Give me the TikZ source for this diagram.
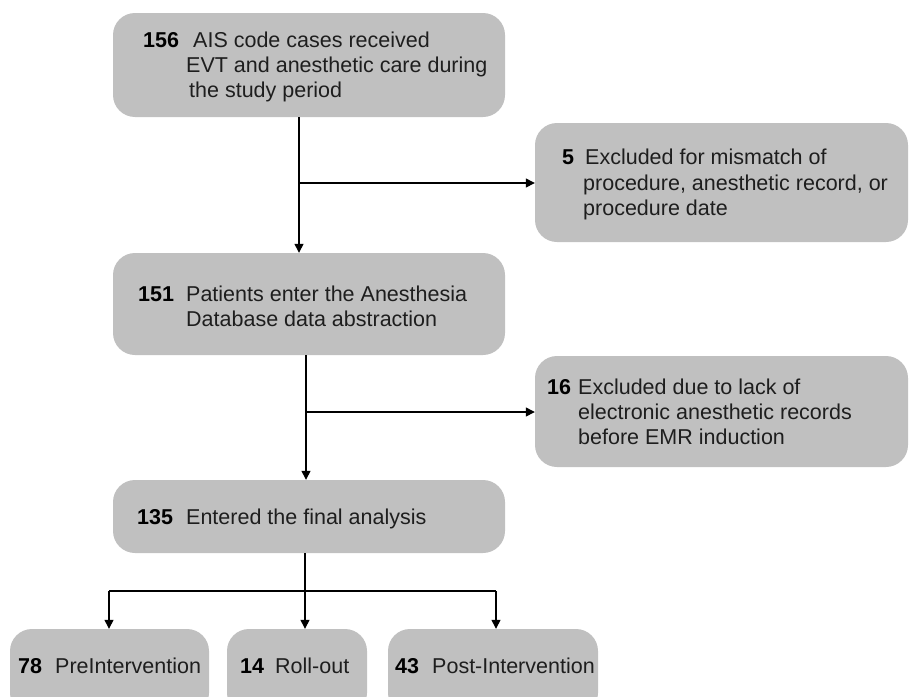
\documentclass[tikz,border=0pt]{standalone}
\usepackage{fontspec}
\setmainfont{Liberation Sans}
\usetikzlibrary{arrows.meta}
\definecolor{boxgray}{RGB}{192,192,192}
\definecolor{txt}{RGB}{30,30,30}
\begin{document}
\begin{tikzpicture}[x=1pt,y=-1pt,
  box/.style={fill=boxgray, draw=none, rounded corners=22pt, inner sep=0pt},
  lbl/.style={anchor=base west, inner sep=0pt, text=txt, font=\fontsize{21.5}{25}\selectfont},
  num/.style={anchor=base west, inner sep=0pt, text=black, font=\fontsize{21.5}{25}\selectfont\bfseries},
  arr/.style={draw=black, line width=1.3pt, -{Triangle[length=9pt,width=9pt]}},
  ln/.style={draw=black, line width=1.3pt}]
\useasboundingbox (0,0) rectangle (910,696);

% boxes
\node[box, minimum width=392pt, minimum height=104pt] (b1) at (309,65) {};
\node[box, minimum width=373pt, minimum height=119pt] (x1) at (721.5,182.5) {};
\node[box, minimum width=392pt, minimum height=102pt] (b2) at (309,304) {};
\node[box, minimum width=373pt, minimum height=111pt] (x2) at (721.5,411.5) {};
\node[box, minimum width=392pt, minimum height=73pt] (b3) at (309,516.5) {};
\node[box, minimum width=199pt, minimum height=86pt] (c1) at (109.5,672) {};
\node[box, minimum width=140pt, minimum height=86pt] (c2) at (297,672) {};
\node[box, minimum width=210pt, minimum height=86pt] (c3) at (493,672) {};

% texts
\node[num] (n1) at (143,47) {156};
\node[lbl] (t1a) at (193,47) {AIS code cases received};
\node[lbl] (t1b) at (186,72) {EVT and anesthetic care during};
\node[lbl] (t1c) at (189,97) {the study period};

\node[num] (n2) at (562,164) {5};
\node[lbl] (t2a) at (585,164) {Excluded for mismatch of};
\node[lbl] (t2b) at (583,190) {procedure, anesthetic record, or};
\node[lbl] (t2c) at (583,215) {procedure date};

\node[num] (n3) at (138,301) {151};
\node[lbl] (t3a) at (186,301) {Patients enter the Anesthesia};
\node[lbl] (t3b) at (186,326) {Database data abstraction};

\node[num] (n4) at (547,394) {16};
\node[lbl] (t4a) at (578,394) {Excluded due to lack of};
\node[lbl] (t4b) at (578,419) {electronic anesthetic records};
\node[lbl] (t4c) at (578,444) {before EMR induction};

\node[num] (n5) at (137,524) {135};
\node[lbl] (t5a) at (186,524) {Entered the final analysis};

\node[num] (n6) at (18,673) {78};
\node[lbl] (t6a) at (55,673) {PreIntervention};
\node[num] (n7) at (240,673) {14};
\node[lbl] (t7a) at (275,673) {Roll-out};
\node[num] (n8) at (395,673) {43};
\node[lbl] (t8a) at (432,673) {Post-Intervention};

% connectors
\coordinate (j1) at (299,183);
\draw[arr] (b1.south -| j1) -- (b2.north -| j1);
\draw[arr] (j1) -- (x1.west |- j1);

\coordinate (j2) at (306,412);
\draw[arr] (b2.south -| j2) -- (b3.north -| j2);
\draw[arr] (j2) -- (x2.west |- j2);

\coordinate (j3) at (305,591);
\coordinate (j3l) at (109,591);
\coordinate (j3r) at (496,591);
\draw[ln] (b3.south -| j3) -- (j3);
\draw[ln] (j3l) -- (j3r);
\draw[arr] (j3l) -- (c1.north -| j3l);
\draw[arr] (j3) -- (c2.north -| j3);
\draw[arr] (j3r) -- (c3.north -| j3r);
\end{tikzpicture}
\end{document}
